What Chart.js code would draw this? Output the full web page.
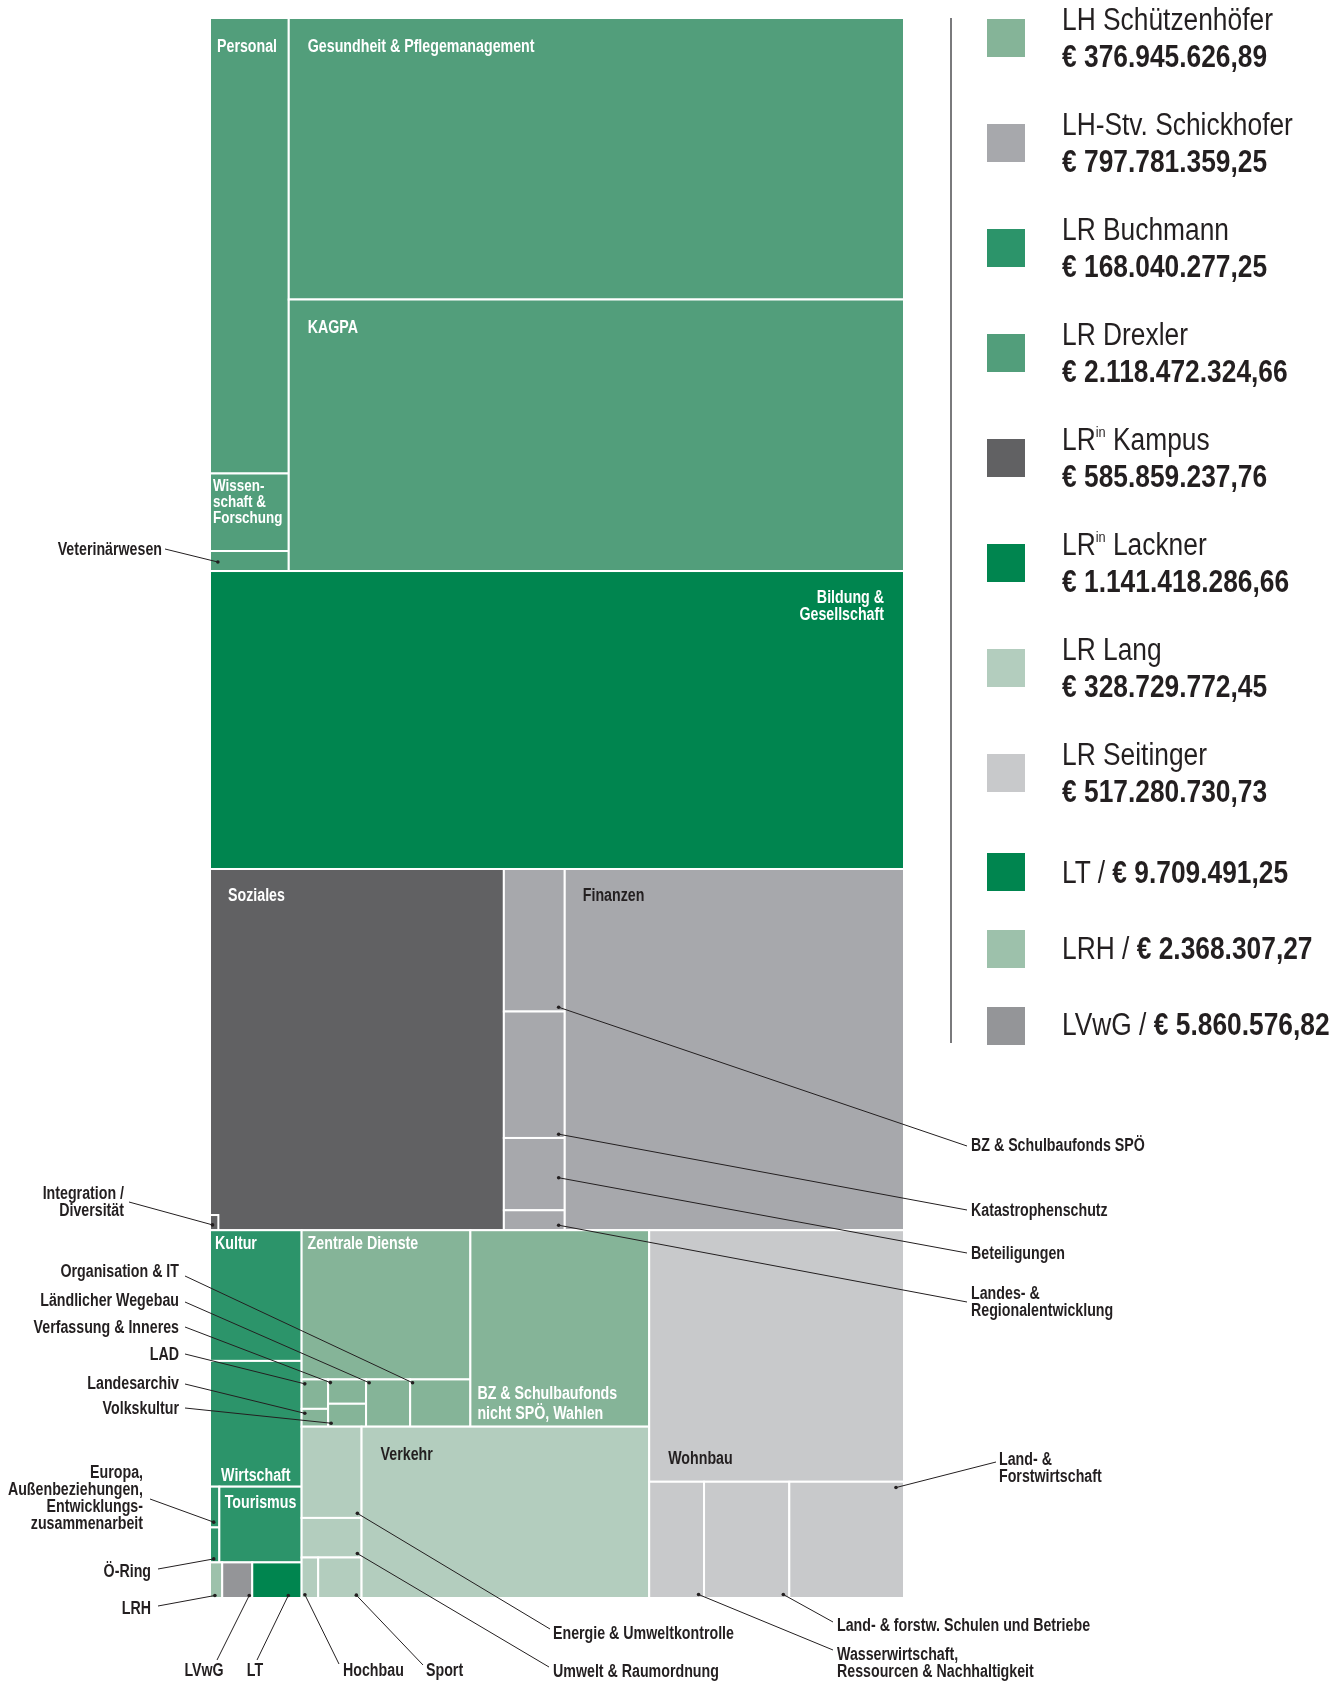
<!DOCTYPE html>
<html lang="de">
<head>
<meta charset="utf-8">
<title>Budget nach Ressorts</title>
<script src="https://cdn.jsdelivr.net/npm/chart.js@4/dist/chart.umd.min.js"></script>
<style>
  html, body { margin: 0; padding: 0; background: #fff; }
  #wrap { position: relative; width: 1339px; height: 1681px; overflow: hidden; }
  #chart { position: absolute; left: 0; top: 0; }
  .rule { position: absolute; left: 950px; top: 18px; width: 1.5px; height: 1025px; background: #7a7a7c; }
  .sw { position: absolute; left: 987px; width: 38px; height: 38px; }
  .lg {
    position: absolute; left: 1062px; white-space: nowrap; color: #231f20;
    font-family: "Liberation Sans", Arial, sans-serif;
    font-size: 31px; line-height: 37px;
    transform: scaleX(0.85); transform-origin: 0 0;
  }
  .lg b { font-weight: bold; }
  .lg sup { font-size: 15px; line-height: 0; position: relative; top: -2px; vertical-align: super; }
</style>
</head>
<body>
<div id="wrap">
  <canvas id="chart" width="1339" height="1681"></canvas>
  <div class="rule"></div>
  <div id="legend"></div>
</div>
<script>
// ------------------------------------------------------------
//  DATA (amounts per member of government, in euro)
// ------------------------------------------------------------
const owners = ["LH Schützenhöfer", "LH-Stv. Schickhofer", "LR Buchmann", "LR Drexler",
                "LRin Kampus", "LRin Lackner", "LR Lang", "LR Seitinger", "LT", "LRH", "LVwG"];
const ownerTotals = [376945626.89, 797781359.25, 168040277.25, 2118472324.66, 585859237.76,
                     1141418286.66, 328729772.45, 517280730.73, 9709491.25, 2368307.27, 5860576.82];
const ownerColors = ["#85b498", "#a7a8ac", "#2c946a", "#529e7b", "#616163",
                     "#00854f", "#b3cdbe", "#c8c9cb", "#00854f", "#9dc1ab", "#949598"];

// departments per owner, values in million euro
const schuetzenhoeferItems = ["Zentrale Dienste", "LAD", "Landesarchiv", "Verfassung & Inneres", "Volkskultur",
                              "Ländlicher Wegebau", "Organisation & IT", "BZ & Schulbaufonds nicht SPÖ, Wahlen"];
const schuetzenhoeferValues = [139.0, 4.3, 2.6, 5.1, 4.8, 11.5, 15.7, 193.9];

const schickhoferItems = ["BZ & Schulbaufonds SPÖ", "Katastrophenschutz", "Beteiligungen",
                          "Landes- & Regionalentwicklung", "Finanzen"];
const schickhoferValues = [47.9, 42.5, 24.3, 6.7, 676.4];

const buchmannItems = ["Kultur", "Wirtschaft", "Europa, Außenbeziehungen, Entwicklungszusammenarbeit", "Ö-Ring", "Tourismus"];
const buchmannValues = [66.1, 63.6, 2.1, 1.8, 34.4];

const drexlerItems = ["Personal", "Wissenschaft & Forschung", "Veterinärwesen", "Gesundheit & Pflegemanagement", "KAGPA"];
const drexlerValues = [198.0, 33.7, 8.7, 956.0, 922.1];

const kampusItems = ["Soziales", "Integration / Diversität"];
const kampusValues = [585.2, 0.7];

const lacknerItems = ["Bildung & Gesellschaft"];
const lacknerValues = [1141.4];

const langItems = ["Energie & Umweltkontrolle", "Umwelt & Raumordnung", "Hochbau", "Sport", "Verkehr"];
const langValues = [30.2, 13.1, 3.7, 9.7, 272.0];

const seitingerItems = ["Wohnbau", "Wasserwirtschaft, Ressourcen & Nachhaltigkeit",
                        "Land- & forstw. Schulen und Betriebe", "Land- & Forstwirtschaft"];
const seitingerValues = [353.8, 35.2, 54.7, 73.6];

const organeItems = ["LT", "LRH", "LVwG"];
const organeValues = [9.7, 2.4, 5.9];

// ------------------------------------------------------------
//  LEAVES + TREE
// ------------------------------------------------------------
const leaves = {};
function addGroup(items, values, ownerIdx) {
  items.forEach(function (name, i) {
    leaves[name] = { name: name, value: values[i], color: ownerColors[ownerIdx] };
  });
}
addGroup(schuetzenhoeferItems, schuetzenhoeferValues, 0);
addGroup(schickhoferItems, schickhoferValues, 1);
addGroup(buchmannItems, buchmannValues, 2);
addGroup(drexlerItems, drexlerValues, 3);
addGroup(kampusItems, kampusValues, 4);
addGroup(lacknerItems, lacknerValues, 5);
addGroup(langItems, langValues, 6);
addGroup(seitingerItems, seitingerValues, 7);
organeItems.forEach(function (name, i) {
  leaves[name] = { name: name, value: organeValues[i], color: ownerColors[8 + i] };
});

function L(name) { return { leaf: leaves[name] }; }
function V(children) { return { dir: "v", children: children }; }   // stacked top to bottom
function H(children) { return { dir: "h", children: children }; }   // side by side
function Inset(main, corner) { return { dir: "inset", children: [main, corner] }; }

const tree = V([
  H([
    V([L("Personal"), L("Wissenschaft & Forschung"), L("Veterinärwesen")]),
    V([L("Gesundheit & Pflegemanagement"), L("KAGPA")])
  ]),
  L("Bildung & Gesellschaft"),
  H([
    Inset(L("Soziales"), L("Integration / Diversität")),
    V([L("BZ & Schulbaufonds SPÖ"), L("Katastrophenschutz"), L("Beteiligungen"), L("Landes- & Regionalentwicklung")]),
    L("Finanzen")
  ]),
  H([
    V([
      L("Kultur"),
      L("Wirtschaft"),
      H([V([L("Europa, Außenbeziehungen, Entwicklungszusammenarbeit"), L("Ö-Ring")]), L("Tourismus")]),
      H([L("LRH"), L("LVwG"), L("LT")])
    ]),
    V([
      H([
        V([
          L("Zentrale Dienste"),
          H([
            V([L("LAD"), L("Landesarchiv")]),
            V([L("Verfassung & Inneres"), L("Volkskultur")]),
            L("Ländlicher Wegebau"),
            L("Organisation & IT")
          ])
        ]),
        L("BZ & Schulbaufonds nicht SPÖ, Wahlen")
      ]),
      H([
        V([L("Energie & Umweltkontrolle"), L("Umwelt & Raumordnung"), H([L("Hochbau"), L("Sport")])]),
        L("Verkehr")
      ])
    ]),
    V([
      L("Wohnbau"),
      H([L("Wasserwirtschaft, Ressourcen & Nachhaltigkeit"), L("Land- & forstw. Schulen und Betriebe"), L("Land- & Forstwirtschaft")])
    ])
  ])
]);

function sumOf(node) {
  if (node.leaf) return node.leaf.value;
  if (node.total == null) node.total = node.children.reduce(function (s, c) { return s + sumOf(c); }, 0);
  return node.total;
}
const TOTAL = sumOf(tree);

// plot area on the canvas (pixels)
const PLOT = { left: 210, top: 18, right: 904, bottom: 1598 };
const KX = PLOT.right - PLOT.left;               // px per x unit (x runs 0..1)
const KY = (PLOT.bottom - PLOT.top) / TOTAL;     // px per million

// slice and dice in data units: x 0..1, y 0..TOTAL (area = value)
const cells = [];
function layout(node, x0, y0, x1, y1) {
  if (node.leaf) {
    node.leaf.rect = { x0: x0, y0: y0, x1: x1, y1: y1 };
    cells.push(node.leaf);
    return;
  }
  if (node.dir === "inset") {
    layout(node.children[0], x0, y0, x1, y1);
    const v = sumOf(node.children[1]);
    const area = v * KX * KY;
    const wPx = Math.sqrt(area * 0.55), hPx = area / wPx;
    layout(node.children[1], x0, y1 - hPx / KY, x0 + wPx / KX, y1);
    return;
  }
  const total = sumOf(node);
  let pos = node.dir === "v" ? y0 : x0;
  node.children.forEach(function (c) {
    const f = sumOf(c) / total;
    if (node.dir === "v") {
      const step = (y1 - y0) * f;
      layout(c, x0, pos, x1, pos + step);
      pos += step;
    } else {
      const step = (x1 - x0) * f;
      layout(c, pos, y0, pos + step, y1);
      pos += step;
    }
  });
}
layout(tree, 0, 0, 1, TOTAL);

// ------------------------------------------------------------
//  LABELS
// ------------------------------------------------------------
const WHITE = "#ffffff", DARK = "#231f20";
const FONT = '"Liberation Sans", Arial, sans-serif';
const NARROW = 0.79;   // horizontal squeeze for the condensed look

// labels inside the cells: anchor, offsets from the cell edge, baseline offset
const innerLabels = {
  "Personal":                       { lines: ["Personal"], at: "tl", dx: 7, dy: 34, color: WHITE },
  "Gesundheit & Pflegemanagement":  { lines: ["Gesundheit & Pflegemanagement"], at: "tl", dx: 19, dy: 34, color: WHITE },
  "KAGPA":                          { lines: ["KAGPA"], at: "tl", dx: 19, dy: 33, color: WHITE },
  "Wissenschaft & Forschung":       { lines: ["Wissen-", "schaft &", "Forschung"], at: "tl", dx: 3, dy: 18, lh: 16, size: 17, color: WHITE },
  "Bildung & Gesellschaft":         { lines: ["Bildung &", "Gesellschaft"], at: "tr", dx: 20, dy: 32, lh: 17, color: WHITE },
  "Soziales":                       { lines: ["Soziales"], at: "tl", dx: 18, dy: 32, color: WHITE },
  "Finanzen":                       { lines: ["Finanzen"], at: "tl", dx: 18, dy: 32, color: DARK },
  "Kultur":                         { lines: ["Kultur"], at: "tl", dx: 5, dy: 19, color: WHITE },
  "Zentrale Dienste":               { lines: ["Zentrale Dienste"], at: "tl", dx: 6, dy: 19, color: WHITE },
  "BZ & Schulbaufonds nicht SPÖ, Wahlen": { lines: ["BZ & Schulbaufonds", "nicht SPÖ, Wahlen"], at: "bl", dx: 7, dy: 8, lh: 20, color: WHITE },
  "Verkehr":                        { lines: ["Verkehr"], at: "tl", dx: 19, dy: 33, color: DARK },
  "Wohnbau":                        { lines: ["Wohnbau"], at: "bl", dx: 19, dy: 18, color: DARK },
  "Wirtschaft":                     { lines: ["Wirtschaft"], at: "bc", dx: 0, dy: 6, color: WHITE },
  "Tourismus":                      { lines: ["Tourismus"], at: "tc", dx: 0, dy: 21, color: WHITE }
};

// labels outside: text position, leader start, dot position inside the cell (fractions)
const outerLabels = {
  "Veterinärwesen":               { lines: ["Veterinärwesen"], x: 162, y: 555, align: "right", from: [165, 549], dot: [0.10, 0.55] },
  "Integration / Diversität":     { lines: ["Integration /", "Diversität"], x: 124, y: 1199, align: "right", from: [129, 1202], dot: [0.3, 0.65] },
  "BZ & Schulbaufonds SPÖ":       { lines: ["BZ & Schulbaufonds SPÖ"], x: 971, y: 1151, align: "left", from: [967, 1146], dot: [0.9, 0.97] },
  "Katastrophenschutz":           { lines: ["Katastrophenschutz"], x: 971, y: 1216, align: "left", from: [967, 1210], dot: [0.9, 0.97] },
  "Beteiligungen":                { lines: ["Beteiligungen"], x: 971, y: 1259, align: "left", from: [967, 1253], dot: [0.9, 0.55] },
  "Landes- & Regionalentwicklung":{ lines: ["Landes- &", "Regionalentwicklung"], x: 971, y: 1299, align: "left", from: [967, 1302], dot: [0.9, 0.75] },
  "Organisation & IT":            { lines: ["Organisation & IT"], x: 179, y: 1277, align: "right", from: [185, 1276], dot: [0.04, 0.07] },
  "Ländlicher Wegebau":           { lines: ["Ländlicher Wegebau"], x: 179, y: 1306, align: "right", from: [185, 1302], dot: [0.07, 0.07] },
  "Verfassung & Inneres":         { lines: ["Verfassung & Inneres"], x: 179, y: 1333, align: "right", from: [185, 1327], dot: [0.06, 0.13] },
  "LAD":                          { lines: ["LAD"], x: 179, y: 1360, align: "right", from: [185, 1354], dot: [0.12, 0.15] },
  "Landesarchiv":                 { lines: ["Landesarchiv"], x: 179, y: 1389, align: "right", from: [185, 1384], dot: [0.12, 0.25] },
  "Volkskultur":                  { lines: ["Volkskultur"], x: 179, y: 1414, align: "right", from: [185, 1408], dot: [0.08, 0.85] },
  "Europa, Außenbeziehungen, Entwicklungszusammenarbeit":
                                  { lines: ["Europa,", "Außenbeziehungen,", "Entwicklungs-", "zusammenarbeit"], x: 143, y: 1478, align: "right", from: [150, 1499], dot: [0.4, 0.87] },
  "Ö-Ring":                       { lines: ["Ö-Ring"], x: 151, y: 1577, align: "right", from: [158, 1569], dot: [0.4, 0.9] },
  "LRH":                          { lines: ["LRH"], x: 151, y: 1614, align: "right", from: [158, 1606], dot: [0.4, 0.93] },
  "LVwG":                         { lines: ["LVwG"], x: 204, y: 1676, align: "center", from: [217, 1660], dot: [0.9, 0.93] },
  "LT":                           { lines: ["LT"], x: 255, y: 1676, align: "center", from: [257, 1660], dot: [0.73, 0.93] },
  "Hochbau":                      { lines: ["Hochbau"], x: 343, y: 1676, align: "left", from: [339, 1664], dot: [0.2, 0.92] },
  "Sport":                        { lines: ["Sport"], x: 426, y: 1676, align: "left", from: [423, 1665], dot: [0.88, 0.93] },
  "Energie & Umweltkontrolle":    { lines: ["Energie & Umweltkontrolle"], x: 553, y: 1639, align: "left", from: [550, 1629], dot: [0.93, 0.95] },
  "Umwelt & Raumordnung":         { lines: ["Umwelt & Raumordnung"], x: 553, y: 1677, align: "left", from: [549, 1667], dot: [0.93, 0.9] },
  "Land- & forstw. Schulen und Betriebe":
                                  { lines: ["Land- & forstw. Schulen und Betriebe"], x: 837, y: 1631, align: "left", from: [833, 1622], dot: [0.93, 0.97] },
  "Wasserwirtschaft, Ressourcen & Nachhaltigkeit":
                                  { lines: ["Wasserwirtschaft,", "Ressourcen & Nachhaltigkeit"], x: 837, y: 1660, align: "left", from: [833, 1650], dot: [0.9, 0.97] },
  "Land- & Forstwirtschaft":      { lines: ["Land- &", "Forstwirtschaft"], x: 999, y: 1465, align: "left", from: [996, 1462], dot: [0.93, 0.05] }
};

// leader dots, in data units
const dotNames = Object.keys(outerLabels);
const dotPoints = dotNames.map(function (name) {
  const r = leaves[name].rect, f = outerLabels[name].dot;
  return { x: r.x0 + f[0] * (r.x1 - r.x0), y: r.y0 + f[1] * (r.y1 - r.y0) };
});

// ------------------------------------------------------------
//  TREEMAP PLUGIN (cells, labels, leader lines)
// ------------------------------------------------------------
function pxRect(chart, r) {
  const x = chart.scales.x, y = chart.scales.y;
  return {
    x0: x.getPixelForValue(r.x0), x1: x.getPixelForValue(r.x1),
    y0: y.getPixelForValue(r.y0), y1: y.getPixelForValue(r.y1)
  };
}

// squeezed text, anchored at (x, y)
function narrowText(ctx, text, x, y, align) {
  ctx.save();
  ctx.translate(x, y);
  ctx.scale(NARROW, 1);
  ctx.textAlign = align;
  ctx.textBaseline = "alphabetic";
  ctx.fillText(text, 0, 0);
  ctx.restore();
}

const treemapPlugin = {
  id: "treemapCells",
  beforeDatasetsDraw(chart) {
    const ctx = chart.ctx;
    ctx.save();

    // cells
    cells.forEach(function (c) {
      const p = pxRect(chart, c.rect);
      ctx.fillStyle = c.color;
      ctx.fillRect(p.x0, p.y0, p.x1 - p.x0, p.y1 - p.y0);
      ctx.strokeStyle = "#ffffff";
      ctx.lineWidth = 2;
      ctx.strokeRect(p.x0, p.y0, p.x1 - p.x0, p.y1 - p.y0);
    });

    // labels inside
    Object.keys(innerLabels).forEach(function (name) {
      const s = innerLabels[name];
      const p = pxRect(chart, leaves[name].rect);
      const lh = s.lh || 18;
      ctx.font = "bold " + (s.size || 18) + "px " + FONT;
      ctx.fillStyle = s.color;
      let tx, ty, align;
      if (s.at === "tl")      { align = "left";   tx = p.x0 + s.dx; ty = p.y0 + s.dy; }
      else if (s.at === "tr") { align = "right";  tx = p.x1 - s.dx; ty = p.y0 + s.dy; }
      else if (s.at === "tc") { align = "center"; tx = (p.x0 + p.x1) / 2 + s.dx; ty = p.y0 + s.dy; }
      else if (s.at === "bc") { align = "center"; tx = (p.x0 + p.x1) / 2 + s.dx; ty = p.y1 - s.dy - lh * (s.lines.length - 1); }
      else                    { align = "left";   tx = p.x0 + s.dx; ty = p.y1 - s.dy - lh * (s.lines.length - 1); }
      s.lines.forEach(function (t, i) { narrowText(ctx, t, tx, ty + i * lh, align); });
    });

    // leader lines + outside labels
    const xs = chart.scales.x, ys = chart.scales.y;
    ctx.strokeStyle = DARK;
    ctx.lineWidth = 1;
    dotNames.forEach(function (name, i) {
      const s = outerLabels[name];
      ctx.beginPath();
      ctx.moveTo(s.from[0], s.from[1]);
      ctx.lineTo(xs.getPixelForValue(dotPoints[i].x), ys.getPixelForValue(dotPoints[i].y));
      ctx.stroke();

      ctx.font = "bold 18px " + FONT;
      ctx.fillStyle = DARK;
      s.lines.forEach(function (t, k) { narrowText(ctx, t, s.x, s.y + k * 17, s.align); });
    });

    ctx.restore();
  }
};

// ------------------------------------------------------------
//  CHART
// ------------------------------------------------------------
const chart = new Chart(document.getElementById("chart").getContext("2d"), {
  type: "scatter",
  data: {
    datasets: [{
      label: "Zuordnung",
      data: dotPoints,
      pointRadius: 1.8,
      pointBorderWidth: 0,
      pointBackgroundColor: DARK,
      clip: false
    }]
  },
  options: {
    responsive: false,
    devicePixelRatio: 1,
    animation: false,
    events: [],
    layout: { padding: { left: PLOT.left, top: PLOT.top, right: 1339 - PLOT.right, bottom: 1681 - PLOT.bottom } },
    plugins: { legend: { display: false }, tooltip: { enabled: false } },
    scales: {
      x: { type: "linear", min: 0, max: 1, display: false },
      y: { type: "linear", min: 0, max: TOTAL, reverse: true, display: false }
    }
  },
  plugins: [treemapPlugin]
});

// ------------------------------------------------------------
//  LEGEND
// ------------------------------------------------------------
function euro(v) {
  const parts = v.toFixed(2).split(".");
  return "€ " + parts[0].replace(/\B(?=(\d{3})+(?!\d))/g, ".") + "," + parts[1];
}

const legend = document.getElementById("legend");
function legendText(html, top) {
  const tx = document.createElement("div");
  tx.className = "lg";
  tx.style.top = top + "px";
  tx.innerHTML = html;
  legend.appendChild(tx);
}
owners.forEach(function (name, i) {
  const sw = document.createElement("div");
  sw.className = "sw";
  sw.style.background = ownerColors[i];
  legend.appendChild(sw);
  const title = name.replace(/^LRin/, "LR<sup>in</sup>");
  if (i < 8) {
    sw.style.top = (19 + 105 * i) + "px";
    legendText(title, 1 + 105 * i);
    legendText("<b>" + euro(ownerTotals[i]) + "</b>", 38 + 105 * i);
  } else {
    sw.style.top = (853 + 77 * (i - 8)) + "px";
    legendText(title + " / <b>" + euro(ownerTotals[i]) + "</b>", 854 + 76 * (i - 8));
  }
});
</script>
</body>
</html>
